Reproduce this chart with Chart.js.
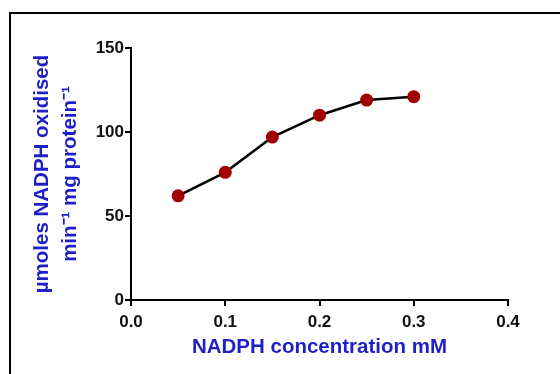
<!DOCTYPE html>
<html>
<head>
<meta charset="utf-8">
<script src="https://cdn.jsdelivr.net/npm/chart.js@4"></script>
<style>
  body { margin: 0; background: #fff; }
  #wrap { position: relative; width: 560px; height: 374px; }
  #frame { position: absolute; left: 9px; top: 12px; width: 600px; height: 400px; border: 2px solid #000; box-sizing: border-box; }
  canvas { position: absolute; left: 0; top: 0; }
</style>
</head>
<body>
<div id="wrap">
  <div id="frame"></div>
  <canvas id="chart" width="560" height="374"></canvas>
</div>
<script>
// NADPH concentration (mM) vs rate
const concentrations = [0.05, 0.1, 0.15, 0.2, 0.25, 0.3];
const rates = [62, 76, 97, 110, 119, 121];
const xTicks = [0, 0.1, 0.2, 0.3, 0.4];
const yTicks = [0, 50, 100, 150];

const blue = '#1f1fc8';
const tickFont = { family: 'Liberation Sans, Arial, sans-serif', size: 17, weight: 'bold' };
const titleFont = { family: 'Liberation Sans, Arial, sans-serif', size: 20.5, weight: 'bold' };

const ctx = document.getElementById('chart').getContext('2d');
new Chart(ctx, {
  type: 'scatter',
  data: {
    datasets: [{
      data: concentrations.map((x, i) => ({ x: x, y: rates[i] })),
      showLine: true,
      borderColor: '#000',
      borderWidth: 2.5,
      pointRadius: 6.5,
      pointBackgroundColor: '#a00000',
      pointBorderColor: '#a00000',
      pointBorderWidth: 0
    }]
  },
  options: {
    responsive: false,
    animation: false,
    layout: { padding: { top: 48, right: 52, left: 0, bottom: 0 } },
    plugins: { legend: { display: false }, tooltip: { enabled: false } },
    scales: {
      x: {
        type: 'linear',
        min: 0, max: 0.4,
        afterBuildTicks: s => { s.ticks = xTicks.map(v => ({ value: v })); },
        afterFit: s => { s.height = 74; },
        ticks: { color: '#111', font: tickFont, padding: 6, callback: v => v.toFixed(1) },
        grid: { drawOnChartArea: false, drawTicks: true, tickLength: 6, color: '#000', lineWidth: 2 },
        border: { display: true, color: '#000', width: 2 },
        title: { display: true, text: 'NADPH concentration mM', color: blue, font: titleFont, padding: { top: 0, bottom: 14 } }
      },
      y: {
        min: 0, max: 150,
        afterBuildTicks: s => { s.ticks = yTicks.map(v => ({ value: v })); },
        afterFit: s => { s.width = 131; },
        ticks: { color: '#111', font: tickFont, padding: 1 },
        grid: { drawOnChartArea: false, drawTicks: true, tickLength: 6, color: '#000', lineWidth: 2 },
        border: { display: true, color: '#000', width: 2 },
        title: {
          display: true,
          text: ['\u00b5moles NADPH oxidised', 'min\u207b\u00b9 mg protein\u207b\u00b9'],
          color: blue,
          font: Object.assign({ lineHeight: 1.35 }, titleFont),
          padding: { top: 29, bottom: 0 }
        }
      }
    }
  }
});
</script>
</body>
</html>
